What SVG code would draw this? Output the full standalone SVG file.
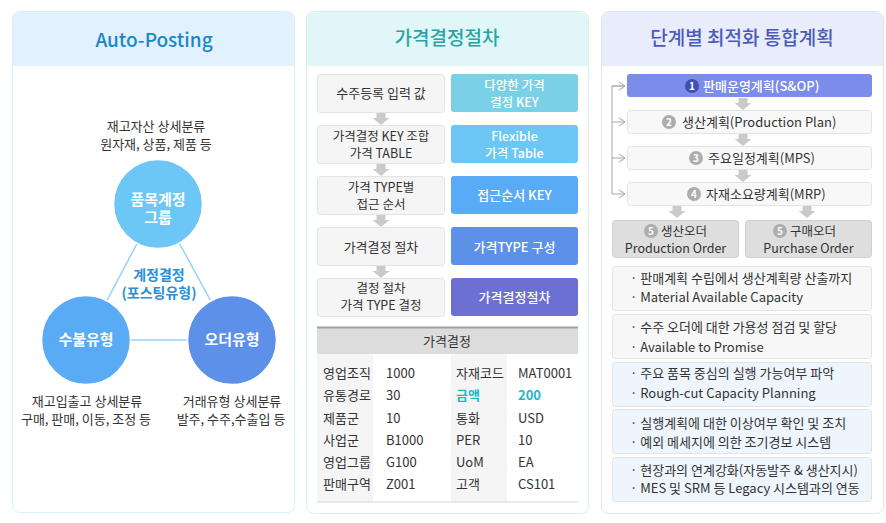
<svg xmlns="http://www.w3.org/2000/svg" xmlns:xlink="http://www.w3.org/1999/xlink" width="886" height="523" viewBox="0 0 886 523">
<defs>
<style>
text{font-family:"Noto Sans CJK KR","Noto Sans",sans-serif;font-size:13px;fill:#333;}
.c{text-anchor:middle;}
.s{font-size:12.5px;}
.title{font-size:19px;font-weight:500;text-anchor:middle;}
.circ{fill:#fff;font-size:15px;font-weight:700;text-anchor:middle;}
.lbox{fill:#f5f5f5;stroke:#e3e3e3;stroke-width:1;}
.rt{fill:#fff;text-anchor:middle;font-weight:500;}
.th{fill:#f5f5f5;}
.row{fill:#f8f8f8;stroke:#e3e3e3;}
.info{stroke:#e3e3e3;}
.num{fill:#fff;font-size:10px;font-weight:700;text-anchor:middle;}
.loop{stroke:#a8a8a8;stroke-width:1;fill:none;}
</style>
<path id="darr" d="M-4.5,0 H4.5 V5 H8.5 L0,12 L-8.5,5 H-4.5 Z" fill="#cacaca"/>
<marker id="chev" markerWidth="8" markerHeight="10" refX="7" refY="5" orient="auto" markerUnits="userSpaceOnUse">
<path d="M1,1 L7,5 L1,9" fill="none" stroke="#a8a8a8" stroke-width="1"/>
</marker>
</defs>
<rect width="886" height="523" fill="#fff"/>

<!-- Panel 1 -->
<g id="panel1">
<rect x="12.5" y="11.5" width="282" height="501" rx="7" fill="#fff" stroke="#d9edfb"/>
<path d="M13,66 V18.5 A6.5,6.5 0 0 1 19.5,12 H287.5 A6.5,6.5 0 0 1 294,18.5 V66 Z" fill="#e1f1fd"/>
<text x="154" y="47" class="title" style="fill:#1a87c9">Auto-Posting</text>
<text x="156" y="131" class="c">재고자산 상세분류</text>
<text x="156" y="149" class="c">원자재, 상품, 제품 등</text>
</g>
<g id="connectors1">
<line x1="158" y1="204" x2="86" y2="340" stroke="#95d3f7" stroke-width="1.5"/>
<line x1="158" y1="204" x2="232" y2="340" stroke="#95d3f7" stroke-width="1.5"/>
<line x1="86" y1="340" x2="232" y2="340" stroke="#95d3f7" stroke-width="1.5"/>
</g>
<g id="n-group">
<circle cx="158" cy="204" r="44.5" fill="#6dc7f6" stroke="#fff" stroke-width="1.5"/>
<text x="158" y="205" class="circ">품목계정</text>
<text x="158" y="223" class="circ">그룹</text>
</g>
<g id="n-center">
<text x="159" y="280" class="c" style="fill:#2a90d3;font-size:14px;font-weight:700">계정결정</text>
<text x="159" y="298" class="c" style="fill:#2a90d3;font-size:14px;font-weight:700">(포스팅유형)</text>
</g>
<g id="n-inout">
<circle cx="86" cy="340" r="44.5" fill="#5aabf6" stroke="#fff" stroke-width="1.5"/>
<text x="86" y="345" class="circ">수불유형</text>
<text x="87" y="406" class="c">재고입출고 상세분류</text>
<text x="86" y="424" class="c">구매, 판매, 이동, 조정 등</text>
</g>
<g id="n-order">
<circle cx="232" cy="340" r="44.5" fill="#5c90e9" stroke="#fff" stroke-width="1.5"/>
<text x="232" y="345" class="circ">오더유형</text>
<text x="232" y="406" class="c">거래유형 상세분류</text>
<text x="231" y="424" class="c">발주, 수주,수출입 등</text>
</g>

<!-- Panel 2 -->
<g id="panel2">
<rect x="306.5" y="11.5" width="282" height="502" rx="7" fill="#fff" stroke="#d6efef"/>
<path d="M307,66 V18.5 A6.5,6.5 0 0 1 313.5,12 H581.5 A6.5,6.5 0 0 1 588,18.5 V66 Z" fill="#e1f6f7"/>
<text x="447" y="45" class="title" style="fill:#27a5a6">가격결정절차</text>
</g>
<g id="connectors2">
<use xlink:href="#darr" x="381" y="113"/>
<use xlink:href="#darr" x="381" y="164"/>
<use xlink:href="#darr" x="381" y="215"/>
<use xlink:href="#darr" x="381" y="266"/>
</g>
<g id="p2-row1">
<rect x="317.5" y="74.5" width="127" height="38" rx="3" class="lbox"/>
<text x="381" y="98" class="c">수주등록 입력 값</text>
<rect x="451" y="74" width="127" height="38" rx="3" fill="#7ad0e6"/>
<text x="514.5" y="89.5" class="rt s">다양한 가격</text>
<text x="514.5" y="106.5" class="rt s">결정 KEY</text>
</g>
<g id="p2-row2">
<rect x="317.5" y="125.5" width="127" height="38" rx="3" class="lbox"/>
<text x="381" y="140.5" class="c s">가격결정 KEY 조합</text>
<text x="381" y="157.5" class="c s">가격 TABLE</text>
<rect x="451" y="125" width="127" height="38" rx="3" fill="#6cc6f6"/>
<text x="514.5" y="140.5" class="rt s">Flexible</text>
<text x="514.5" y="157.5" class="rt s">가격 Table</text>
</g>
<g id="p2-row3">
<rect x="317.5" y="176.5" width="127" height="38" rx="3" class="lbox"/>
<text x="381" y="191.5" class="c s">가격 TYPE별</text>
<text x="381" y="208.5" class="c s">접근 순서</text>
<rect x="451" y="176" width="127" height="38" rx="3" fill="#5aabf6"/>
<text x="514.5" y="200" class="rt">접근순서 KEY</text>
</g>
<g id="p2-row4">
<rect x="317.5" y="227.5" width="127" height="38" rx="3" class="lbox"/>
<text x="381" y="251.5" class="c">가격결정 절차</text>
<rect x="451" y="227" width="127" height="38" rx="3" fill="#5c90e9"/>
<text x="514.5" y="251.5" class="rt">가격TYPE 구성</text>
</g>
<g id="p2-row5">
<rect x="317.5" y="278.5" width="127" height="38" rx="3" class="lbox"/>
<text x="381" y="293" class="c s">결정 절차</text>
<text x="381" y="310" class="c s">가격 TYPE 결정</text>
<rect x="451" y="278" width="127" height="38" rx="3" fill="#6b70d2"/>
<text x="514.5" y="302" class="rt">가격결정절차</text>
</g>
<g id="p2-table">
<rect x="317" y="327" width="261" height="27" fill="#dcdcdc"/>
<line x1="317" y1="327.5" x2="578" y2="327.5" stroke="#a0a0a0" stroke-width="2"/>
<text x="447" y="346" class="c">가격결정</text>
<rect x="317" y="354" width="56" height="148" class="th"/>
<rect x="451" y="354" width="56" height="148" class="th"/>
<line x1="317" y1="502" x2="578" y2="502" stroke="#e2e2e2" stroke-width="1.5"/>
<g>
<text x="323" y="378">영업조직</text><text x="386" y="378">1000</text><text x="456" y="378">자재코드</text><text x="518" y="378">MAT0001</text>
<text x="323" y="400">유통경로</text><text x="386" y="400">30</text><text x="456" y="400" style="fill:#1fb6c8;font-weight:700">금액</text><text x="518" y="400" style="fill:#1fb6c8;font-weight:700">200</text>
<text x="323" y="423">제품군</text><text x="386" y="423">10</text><text x="456" y="423">통화</text><text x="518" y="423">USD</text>
<text x="323" y="445">사업군</text><text x="386" y="445">B1000</text><text x="456" y="445">PER</text><text x="518" y="445">10</text>
<text x="323" y="467">영업그룹</text><text x="386" y="467">G100</text><text x="456" y="467">UoM</text><text x="518" y="467">EA</text>
<text x="323" y="489">판매구역</text><text x="386" y="489">Z001</text><text x="456" y="489">고객</text><text x="518" y="489">CS101</text>
</g>
</g>

<!-- Panel 3 -->
<g id="panel3">
<rect x="601.5" y="11.5" width="282" height="502" rx="7" fill="#fff" stroke="#dfe3f6"/>
<path d="M602,66 V18.5 A6.5,6.5 0 0 1 608.5,12 H876.5 A6.5,6.5 0 0 1 883,18.5 V66 Z" fill="#e9ecfa"/>
<text x="742" y="45" class="title" style="fill:#4b5bb9">단계별 최적화 통합계획</text>
</g>
<g id="connectors3">
<path d="M625,86 H612 V194" class="loop"/>
<line x1="612" y1="86" x2="625" y2="86" class="loop" marker-end="url(#chev)"/>
<line x1="612" y1="122" x2="625" y2="122" class="loop" marker-end="url(#chev)"/>
<line x1="612" y1="158" x2="625" y2="158" class="loop" marker-end="url(#chev)"/>
<line x1="612" y1="194" x2="625" y2="194" class="loop" marker-end="url(#chev)"/>
<use xlink:href="#darr" x="743" y="98"/>
<use xlink:href="#darr" x="743" y="134"/>
<use xlink:href="#darr" x="743" y="170"/>
<use xlink:href="#darr" x="677" y="206"/>
<use xlink:href="#darr" x="807" y="206"/>
</g>
<g id="p3-sop">
<rect x="627" y="74" width="245" height="23" rx="3" fill="#7b8ce9"/>
<circle cx="692" cy="86" r="7" fill="#3f4fb3"/>
<text x="692" y="89.5" class="num">1</text>
<text x="703" y="91" style="fill:#fff;font-weight:500">판매운영계획(S&amp;OP)</text>
</g>
<g id="p3-pp">
<rect x="627.5" y="110.5" width="244" height="23" rx="3" class="row"/>
<circle cx="669" cy="122" r="7" fill="#adadad"/>
<text x="669" y="125.5" class="num">2</text>
<text x="682" y="127">생산계획(Production Plan)</text>
</g>
<g id="p3-mps">
<rect x="627.5" y="146.5" width="244" height="23" rx="3" class="row"/>
<circle cx="696" cy="158" r="7" fill="#adadad"/>
<text x="696" y="161.5" class="num">3</text>
<text x="708" y="163">주요일정계획(MPS)</text>
</g>
<g id="p3-mrp">
<rect x="627.5" y="182.5" width="244" height="23" rx="3" class="row"/>
<circle cx="694" cy="194" r="7" fill="#adadad"/>
<text x="694" y="197.5" class="num">4</text>
<text x="706" y="199">자재소요량계획(MRP)</text>
</g>
<g id="p3-prod">
<rect x="612.5" y="220.5" width="126" height="37" rx="3" fill="#dedede" stroke="#cfcfcf"/>
<circle cx="651" cy="231" r="7" fill="#adadad"/>
<text x="651" y="234.5" class="num">5</text>
<text x="661" y="235.5" class="s">생산오더</text>
<text x="675.5" y="252.5" class="c s">Production Order</text>
</g>
<g id="p3-purch">
<rect x="745.5" y="220.5" width="126" height="37" rx="3" fill="#dedede" stroke="#cfcfcf"/>
<circle cx="780" cy="231" r="7" fill="#adadad"/>
<text x="780" y="234.5" class="num">5</text>
<text x="790" y="235.5" class="s">구매오더</text>
<text x="808.5" y="252.5" class="c s">Purchase Order</text>
</g>
<g id="p3-info1">
<rect x="612.5" y="266.5" width="259" height="44" rx="3" fill="#f7f7f7" class="info"/>
<text x="630" y="283">· 판매계획 수립에서 생산계획량 산출까지</text>
<text x="630" y="302">· Material Available Capacity</text>
</g>
<g id="p3-info2">
<rect x="612.5" y="314.5" width="259" height="44" rx="3" fill="#f7f7f7" class="info"/>
<text x="630" y="332">· 수주 오더에 대한 가용성 점검 및 할당</text>
<text x="630" y="352">· Available to Promise</text>
</g>
<g id="p3-info3">
<rect x="612.5" y="362.5" width="259" height="44" rx="3" fill="#eef5fd" class="info"/>
<text x="630" y="378">· 주요 품목 중심의 실행 가능여부 파악</text>
<text x="630" y="398">· Rough-cut Capacity Planning</text>
</g>
<g id="p3-info4">
<rect x="612.5" y="409.5" width="259" height="44" rx="3" fill="#eef5fd" class="info"/>
<text x="630" y="428">· 실행계획에 대한 이상여부 확인 및 조치</text>
<text x="630" y="447">· 예외 메세지에 의한 조기경보 시스템</text>
</g>
<g id="p3-info5">
<rect x="612.5" y="457.5" width="259" height="44" rx="3" fill="#eef5fd" class="info"/>
<text x="630" y="475">· 현장과의 연계강화(자동발주 &amp; 생산지시)</text>
<text x="630" y="493">· MES 및 SRM 등 Legacy 시스템과의 연동</text>
</g>
</svg>
